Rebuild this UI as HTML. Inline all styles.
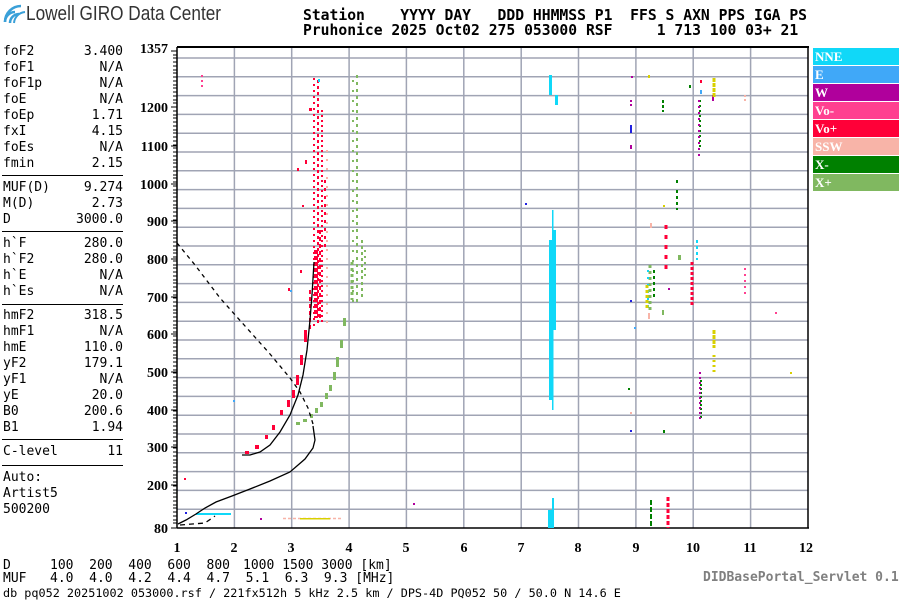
<!DOCTYPE html>
<html><head><meta charset="utf-8"><style>
body{margin:0;width:900px;height:600px;background:#fff;position:relative;overflow:hidden;font-family:"DejaVu Sans Mono","Liberation Mono",monospace;}
.t{position:absolute;font-size:13px;line-height:15px;color:#000;white-space:pre;}
.l{position:absolute;left:3px;font-size:13px;line-height:15px;white-space:pre;}
.v{position:absolute;right:777px;font-size:13px;line-height:15px;white-space:pre;text-align:right;}
.sep{position:absolute;left:2px;width:121px;height:1px;background:#000;}
.hd{position:absolute;left:303px;font-size:14.7px;font-weight:bold;line-height:15px;white-space:pre;}
.lg{position:absolute;left:813px;width:86px;height:17px;color:#fff;font:bold 13px "Liberation Serif",serif;line-height:17px;padding-left:2px;box-sizing:border-box;}
</style></head><body>
<svg style="position:absolute;left:0;top:0" width="30" height="26"><g fill="none" stroke="#3aa0d8" stroke-width="2.5"><path d="M5 22 A10 10 0 0 1 15 12"/><path d="M5 22 A16 16 0 0 1 21 6"/><path d="M10 23 A9 9 0 0 1 19 14"/><path d="M14 23 A12 12 0 0 1 25 12" stroke-width="2"/></g></svg>
<div style="position:absolute;left:26px;top:3px;font:20px 'Liberation Sans Narrow','Liberation Sans',sans-serif;color:#333;transform:scaleX(0.86);transform-origin:left">Lowell GIRO Data Center</div>
<div class="hd" style="top:8px">Station    YYYY DAY   DDD HHMMSS P1  FFS S AXN PPS IGA PS</div>
<div class="hd" style="top:23px">Pruhonice 2025 Oct02 275 053000 RSF     1 713 100 03+ 21</div>

<div class="l" style="top:44px">foF2</div><div class="v" style="top:44px">3.400</div>
<div class="l" style="top:60px">foF1</div><div class="v" style="top:60px">N/A</div>
<div class="l" style="top:76px">foF1p</div><div class="v" style="top:76px">N/A</div>
<div class="l" style="top:92px">foE</div><div class="v" style="top:92px">N/A</div>
<div class="l" style="top:108px">foEp</div><div class="v" style="top:108px">1.71</div>
<div class="l" style="top:124px">fxI</div><div class="v" style="top:124px">4.15</div>
<div class="l" style="top:140px">foEs</div><div class="v" style="top:140px">N/A</div>
<div class="l" style="top:156px">fmin</div><div class="v" style="top:156px">2.15</div>
<div class="sep" style="top:175px"></div>
<div class="l" style="top:180px">MUF(D)</div><div class="v" style="top:180px">9.274</div>
<div class="l" style="top:196px">M(D)</div><div class="v" style="top:196px">2.73</div>
<div class="l" style="top:212px">D</div><div class="v" style="top:212px">3000.0</div>
<div class="sep" style="top:231px"></div>
<div class="l" style="top:236px">h`F</div><div class="v" style="top:236px">280.0</div>
<div class="l" style="top:252px">h`F2</div><div class="v" style="top:252px">280.0</div>
<div class="l" style="top:268px">h`E</div><div class="v" style="top:268px">N/A</div>
<div class="l" style="top:284px">h`Es</div><div class="v" style="top:284px">N/A</div>
<div class="sep" style="top:304px"></div>
<div class="l" style="top:308px">hmF2</div><div class="v" style="top:308px">318.5</div>
<div class="l" style="top:324px">hmF1</div><div class="v" style="top:324px">N/A</div>
<div class="l" style="top:340px">hmE</div><div class="v" style="top:340px">110.0</div>
<div class="l" style="top:356px">yF2</div><div class="v" style="top:356px">179.1</div>
<div class="l" style="top:372px">yF1</div><div class="v" style="top:372px">N/A</div>
<div class="l" style="top:388px">yE</div><div class="v" style="top:388px">20.0</div>
<div class="l" style="top:404px">B0</div><div class="v" style="top:404px">200.6</div>
<div class="l" style="top:420px">B1</div><div class="v" style="top:420px">1.94</div>
<div class="sep" style="top:439px"></div>
<div class="l" style="top:444px">C-level</div><div class="v" style="top:444px">11</div>
<div class="sep" style="top:465px"></div>
<div class="l" style="top:470px">Auto:</div>
<div class="l" style="top:486px">Artist5</div>
<div class="l" style="top:502px">500200</div>

<div class="lg" style="top:48px;background:#10d8f8">NNE</div>
<div class="lg" style="top:66px;background:#40a8f8">E</div>
<div class="lg" style="top:84px;background:#b0009c">W</div>
<div class="lg" style="top:102px;background:#ff4090">Vo-</div>
<div class="lg" style="top:120px;background:#ff0038">Vo+</div>
<div class="lg" style="top:138px;background:#f8b4a8">SSW</div>
<div class="lg" style="top:156px;background:#008000">X-</div>
<div class="lg" style="top:174px;background:#80b860">X+</div>

<svg style="position:absolute;left:0;top:0" width="900" height="600">
<g stroke="#a0a4b4" stroke-width="1.5">
<line x1="177" y1="509.2" x2="808" y2="509.2"/><line x1="177" y1="490.4" x2="808" y2="490.4"/><line x1="177" y1="471.6" x2="808" y2="471.6"/><line x1="177" y1="452.8" x2="808" y2="452.8"/><line x1="177" y1="434" x2="808" y2="434"/><line x1="177" y1="415.2" x2="808" y2="415.2"/><line x1="177" y1="396.4" x2="808" y2="396.4"/><line x1="177" y1="377.6" x2="808" y2="377.6"/><line x1="177" y1="358.8" x2="808" y2="358.8"/><line x1="177" y1="340" x2="808" y2="340"/><line x1="177" y1="321.2" x2="808" y2="321.2"/><line x1="177" y1="302.4" x2="808" y2="302.4"/><line x1="177" y1="283.6" x2="808" y2="283.6"/><line x1="177" y1="264.8" x2="808" y2="264.8"/><line x1="177" y1="246" x2="808" y2="246"/><line x1="177" y1="227.2" x2="808" y2="227.2"/><line x1="177" y1="208.4" x2="808" y2="208.4"/><line x1="177" y1="189.6" x2="808" y2="189.6"/><line x1="177" y1="170.8" x2="808" y2="170.8"/><line x1="177" y1="152" x2="808" y2="152"/><line x1="177" y1="133.2" x2="808" y2="133.2"/><line x1="177" y1="114.4" x2="808" y2="114.4"/><line x1="177" y1="95.6" x2="808" y2="95.6"/><line x1="177" y1="76.8" x2="808" y2="76.8"/><line x1="177" y1="58" x2="808" y2="58"/>
<line x1="234.4" y1="48" x2="234.4" y2="528"/><line x1="291.7" y1="48" x2="291.7" y2="528"/><line x1="349.1" y1="48" x2="349.1" y2="528"/><line x1="406.4" y1="48" x2="406.4" y2="528"/><line x1="463.8" y1="48" x2="463.8" y2="528"/><line x1="521.2" y1="48" x2="521.2" y2="528"/><line x1="578.5" y1="48" x2="578.5" y2="528"/><line x1="635.9" y1="48" x2="635.9" y2="528"/><line x1="693.2" y1="48" x2="693.2" y2="528"/><line x1="750.6" y1="48" x2="750.6" y2="528"/>
</g>
<line x1="177" y1="47" x2="809" y2="47" stroke="#000" stroke-width="2"/>
<line x1="808" y1="47" x2="808" y2="528" stroke="#000" stroke-width="1.5"/>
<line x1="177" y1="47" x2="177" y2="528" stroke="#000" stroke-width="1.5"/>
<line x1="177" y1="528" x2="809" y2="528" stroke="#000" stroke-width="1.5"/>
<path d="M171 51h6M173 55h4M173 58h4M173 62h4M173 66h4M173 70h4M173 73h4M173 77h4M173 81h4M173 85h4M173 88h4M173 92h4M173 96h4M173 100h4M173 103h4M173 107h4M173 111h4M173 115h4M173 118h4M173 122h4M173 126h4M173 130h4M173 133h4M173 137h4M173 141h4M173 145h4M173 148h4M173 152h4M173 156h4M173 160h4M173 163h4M173 167h4M173 171h4M173 175h4M173 178h4M173 182h4M173 186h4M173 190h4M173 193h4M173 197h4M173 201h4M173 205h4M173 208h4M173 212h4M173 216h4M173 220h4M173 223h4M173 227h4M173 231h4M173 235h4M173 238h4M173 242h4M173 246h4M173 250h4M173 253h4M173 257h4M173 261h4M173 265h4M173 268h4M173 272h4M173 276h4M173 280h4M173 283h4M173 287h4M173 291h4M173 295h4M173 298h4M173 302h4M173 306h4M173 310h4M173 313h4M173 317h4M173 321h4M173 325h4M173 328h4M173 332h4M173 336h4M173 340h4M173 343h4M173 347h4M173 351h4M173 355h4M173 358h4M173 362h4M173 366h4M173 370h4M173 373h4M173 377h4M173 381h4M173 385h4M173 388h4M173 392h4M173 396h4M173 400h4M173 403h4M173 407h4M173 411h4M173 415h4M173 418h4M173 422h4M173 426h4M173 430h4M173 433h4M173 437h4M173 441h4M173 445h4M173 448h4M173 452h4M173 456h4M173 460h4M173 463h4M173 467h4M173 471h4M173 475h4M173 478h4M173 482h4M173 486h4M173 490h4M173 493h4M173 497h4M173 501h4M173 505h4M173 508h4M173 512h4M173 516h4M173 520h4M173 523h4M171 528h6M171 107h6M171 146h6M171 184h6M171 221h6M171 259h6M171 297h6M171 334h6M171 372h6M171 410h6M171 447h6M171 485h6" stroke="#000" stroke-width="1"/>
<g font-family="Liberation Serif,serif" font-weight="bold" font-size="14" text-anchor="end">
<text x="168" y="53">1357</text><text x="168" y="112">1200</text><text x="168" y="151">1100</text><text x="168" y="189">1000</text><text x="168" y="226">900</text><text x="168" y="264">800</text><text x="168" y="302">700</text><text x="168" y="339">600</text><text x="168" y="377">500</text><text x="168" y="415">400</text><text x="168" y="452">300</text><text x="168" y="490">200</text><text x="168" y="533">80</text>
</g>
<g font-family="Liberation Serif,serif" font-weight="bold" font-size="14" text-anchor="middle">
<text x="177" y="552">1</text><text x="234" y="552">2</text><text x="291" y="552">3</text><text x="349" y="552">4</text><text x="406" y="552">5</text><text x="464" y="552">6</text><text x="521" y="552">7</text><text x="578" y="552">8</text><text x="636" y="552">9</text><text x="693" y="552">10</text><text x="750" y="552">11</text><text x="806" y="552">12</text>
</g>
<!-- data: dotted columns -->
<g stroke="#ff0038" fill="none">
<line x1="314" y1="78" x2="314" y2="330" stroke-width="2" stroke-dasharray="2,4"/>
<line x1="318" y1="80" x2="318" y2="325" stroke-width="2" stroke-dasharray="3,3"/>
<line x1="322" y1="110" x2="322" y2="325" stroke-width="2" stroke-dasharray="2,3"/>
<line x1="316" y1="250" x2="316" y2="318" stroke-width="4" stroke-dasharray="4,2"/>
<line x1="320" y1="230" x2="320" y2="320" stroke-width="2" stroke-dasharray="4,3"/>
<line x1="325" y1="180" x2="325" y2="250" stroke-width="2" stroke-dasharray="3,5"/>
<line x1="310" y1="290" x2="310" y2="330" stroke-width="2" stroke-dasharray="4,3"/>
<line x1="666" y1="225" x2="666" y2="275" stroke-width="3" stroke-dasharray="4,6"/>
<line x1="692" y1="262" x2="692" y2="306" stroke-width="3" stroke-dasharray="3,2"/>
<line x1="668" y1="497" x2="668" y2="528" stroke-width="3" stroke-dasharray="4,2"/>
</g>
<g fill="#ff0038">
<rect x="304" y="330" width="3" height="12"/><rect x="300" y="355" width="3" height="10"/><rect x="296" y="375" width="3" height="10"/><rect x="292" y="390" width="3" height="8"/><rect x="287" y="400" width="3" height="7"/><rect x="280" y="410" width="3" height="5"/><rect x="272" y="425" width="3" height="5"/><rect x="265" y="435" width="3" height="4"/><rect x="255" y="445" width="4" height="4"/><rect x="245" y="451" width="4" height="3"/>
<rect x="300" y="270" width="2" height="3"/><rect x="305" y="160" width="2" height="4"/><rect x="297" y="168" width="2" height="3"/><rect x="309" y="108" width="3" height="3"/><rect x="302" y="205" width="2" height="2"/><rect x="288" y="288" width="2" height="3"/><rect x="184" y="478" width="2" height="2"/><rect x="700" y="80" width="2" height="3"/>
</g>
<g stroke="#ff4090" fill="none" stroke-width="2"><line x1="745" y1="268" x2="745" y2="295" stroke-dasharray="2,4"/><line x1="202" y1="75" x2="202" y2="90" stroke-dasharray="2,3"/></g>
<g fill="#ff4090"><rect x="775" y="312" width="2" height="2"/></g>
<g stroke="#f8b4a8" fill="none" stroke-width="2"><line x1="327" y1="150" x2="327" y2="330" stroke-dasharray="2,7"/><line x1="745" y1="95" x2="745" y2="103" stroke-dasharray="2,2"/><line x1="283" y1="518.5" x2="343" y2="518.5" stroke-width="1.5" stroke-dasharray="3,2"/></g>
<g fill="#f8b4a8"><rect x="650" y="223" width="2" height="5"/><rect x="648" y="313" width="2" height="6"/><rect x="630" y="412" width="2" height="2"/></g>
<g stroke="#80b860" fill="none" stroke-width="2">
<line x1="353" y1="80" x2="353" y2="310" stroke-dasharray="2,8"/>
<line x1="357" y1="75" x2="357" y2="305" stroke-dasharray="3,4"/>
<line x1="362" y1="240" x2="362" y2="300" stroke-dasharray="3,3"/>
<line x1="352" y1="262" x2="352" y2="300" stroke-width="3" stroke-dasharray="3,3"/>
<line x1="365" y1="250" x2="365" y2="280" stroke-dasharray="2,4"/>
<line x1="650" y1="265" x2="650" y2="310" stroke-width="3" stroke-dasharray="3,3"/>
</g>
<g fill="#80b860">
<rect x="343" y="318" width="3" height="8"/><rect x="340" y="340" width="3" height="8"/><rect x="336" y="357" width="3" height="10"/><rect x="333" y="372" width="3" height="8"/><rect x="329" y="385" width="3" height="6"/><rect x="325" y="393" width="3" height="6"/><rect x="320" y="402" width="3" height="5"/><rect x="315" y="408" width="3" height="5"/><rect x="310" y="414" width="3" height="4"/><rect x="303" y="419" width="4" height="3"/><rect x="296" y="422" width="4" height="3"/>
<rect x="678" y="255" width="3" height="5"/><rect x="662" y="310" width="2" height="5"/></g>
<g stroke="#008000" fill="none" stroke-width="2"><line x1="651" y1="500" x2="651" y2="528" stroke-dasharray="5,2"/><line x1="663" y1="100" x2="663" y2="112" stroke-dasharray="3,2"/><line x1="677" y1="190" x2="677" y2="210" stroke-dasharray="3,3"/><line x1="700" y1="100" x2="700" y2="150" stroke-dasharray="2,3"/><line x1="654" y1="270" x2="654" y2="300" stroke-dasharray="3,3"/><line x1="701" y1="380" x2="701" y2="420" stroke-dasharray="2,2"/></g>
<g fill="#008000"><rect x="676" y="180" width="2" height="3"/><rect x="689" y="85" width="2" height="3"/><rect x="663" y="430" width="2" height="3"/><rect x="628" y="388" width="2" height="2"/></g>
<g fill="#10d8f8">
<rect x="549" y="240" width="3" height="160"/><rect x="553" y="230" width="3" height="100"/><rect x="552" y="210" width="1.5" height="200"/><rect x="548" y="510" width="4" height="18"/><rect x="552" y="498" width="2" height="30"/><rect x="549" y="75" width="3" height="20"/><rect x="555" y="95" width="3" height="10"/><rect x="196" y="513" width="35" height="2"/><rect x="318" y="79" width="2" height="3"/>
</g>
<g stroke="#10d8f8" stroke-width="2" fill="none"><line x1="697" y1="240" x2="697" y2="260" stroke-dasharray="3,3"/><line x1="648" y1="270" x2="648" y2="310" stroke-dasharray="2,5"/></g>
<g fill="#40a8f8"><rect x="233" y="400" width="2" height="2"/><rect x="290" y="290" width="2" height="2"/><rect x="634" y="327" width="2" height="2"/><rect x="700" y="90" width="2" height="4"/></g>
<g stroke="#b0009c" stroke-width="2" fill="none"><line x1="699" y1="100" x2="699" y2="160" stroke-dasharray="2,4"/><line x1="700" y1="372" x2="700" y2="422" stroke-dasharray="2,3"/><line x1="631" y1="100" x2="631" y2="108" stroke-dasharray="2,2"/></g>
<g fill="#b0009c"><rect x="630" y="145" width="2" height="4"/><rect x="668" y="288" width="2" height="2"/><rect x="413" y="503" width="2" height="2"/><rect x="260" y="518" width="2" height="2"/><rect x="712" y="95" width="2" height="6"/><rect x="631" y="76" width="2" height="2"/></g>
<g fill="#2020e0"><rect x="630" y="125" width="2" height="8"/><rect x="630" y="430" width="2" height="2"/><rect x="630" y="300" width="2" height="2"/><rect x="525" y="203" width="2" height="2"/><rect x="185" y="512" width="2" height="2"/></g>
<g stroke="#d8d000" stroke-width="3" fill="none"><line x1="714" y1="78" x2="714" y2="98" stroke-dasharray="4,1"/><line x1="714" y1="330" x2="714" y2="348" stroke-dasharray="4,1"/><line x1="714" y1="355" x2="714" y2="375" stroke-dasharray="2,3"/><line x1="647" y1="285" x2="647" y2="310" stroke-dasharray="3,2"/></g>
<g fill="#d8d000"><rect x="300" y="518" width="30" height="1.5"/><rect x="648" y="75" width="2" height="3"/><rect x="663" y="205" width="2" height="2"/><rect x="790" y="372" width="2" height="2"/></g>
<!-- curves -->
<polyline fill="none" stroke="#000" stroke-width="1.3" points="242,455 250,455 260,452 270,445 280,432 290,415 298,395 303,375 307,350 310,320 312,295 314,262"/>
<polyline fill="none" stroke="#000" stroke-width="1.3" points="313,426 315,440 313,448 305,459 290,472 270,481 250,489 232,496 216,502 205,508 196,514 186,520 178,524"/>
<polyline fill="none" stroke="#000" stroke-width="1.3" stroke-dasharray="4,4" points="177,243 195,265 220,298 245,326 270,354 290,378 300,392 308,408 313,424"/>
<polyline fill="none" stroke="#000" stroke-width="1.3" stroke-dasharray="5,4" points="180,525 205,523 215,516"/>
</svg>

<div class="t" style="left:3px;top:558px">D</div>
<div class="t" style="left:50px;top:558px">100  200  400  600  800</div>
<div class="t" style="left:243px;top:558px">1000 1500 3000 [km]</div>
<div class="t" style="left:3px;top:571px">MUF</div>
<div class="t" style="left:50px;top:571px">4.0  4.0  4.2  4.4  4.7  5.1  6.3  9.3 [MHz]</div>
<div class="t" style="left:3px;top:586px;font-size:11.8px">db pq052 20251002 053000.rsf / 221fx512h 5 kHz 2.5 km / DPS-4D PQ052 50 / 50.0 N 14.6 E</div>
<div style="position:absolute;left:703px;top:570px;font:bold 13px 'DejaVu Sans Mono',monospace;color:#808080;white-space:pre">DIDBasePortal_Servlet 0.1</div>
</body></html>
